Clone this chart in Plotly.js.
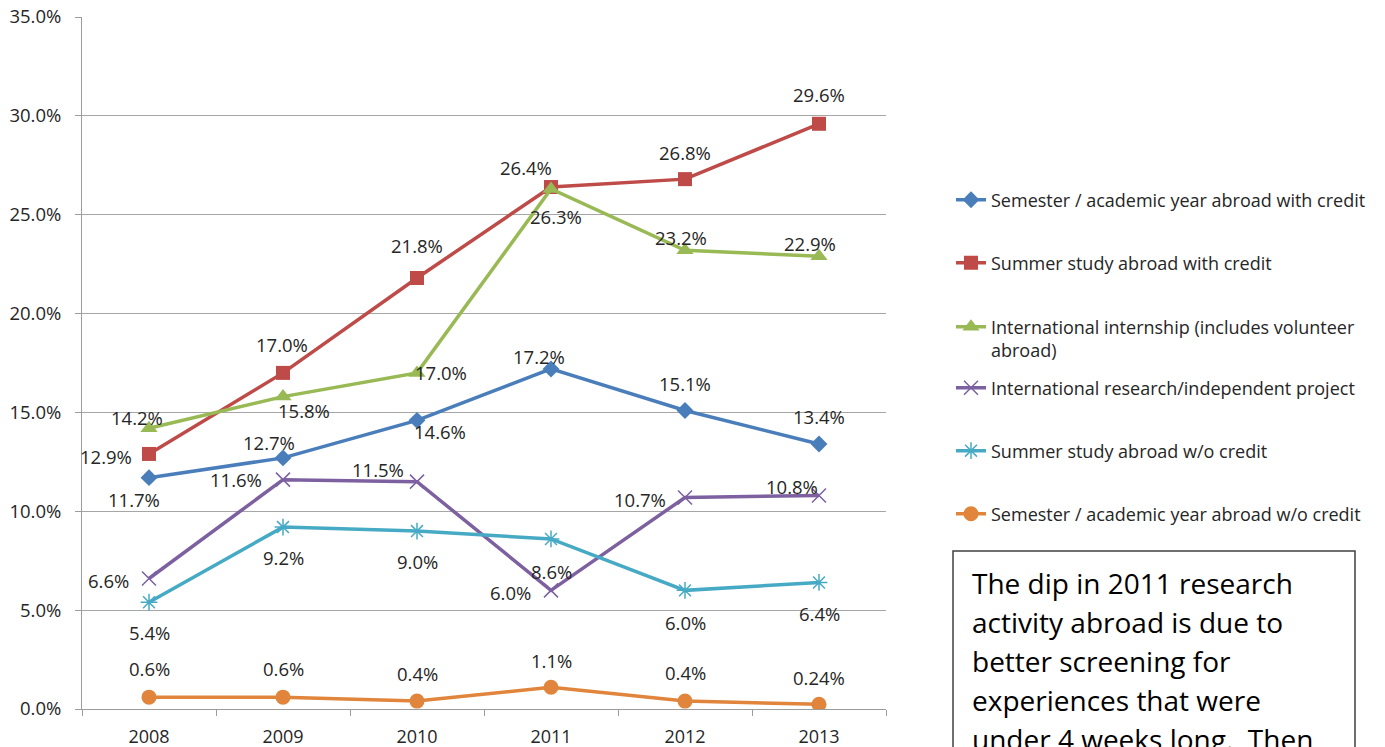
<!DOCTYPE html>
<html>
<head>
<meta charset="utf-8">
<script src="https://cdn.plot.ly/plotly-3.0.1.min.js"></script>
<style>html,body{margin:0;padding:0;background:#fff;}#chart{width:1385px;height:747px;}</style>
</head>
<body>
<div id="chart"></div>
<script>
// ---- data ----
const years = ['2008', '2009', '2010', '2011', '2012', '2013'];
const semWithCredit = [11.7, 12.7, 14.6, 17.2, 15.1, 13.4];
const summerWithCredit = [12.9, 17.0, 21.8, 26.4, 26.8, 29.6];
const internship = [14.2, 15.8, 17.0, 26.3, 23.2, 22.9];
const research = [6.6, 11.6, 11.5, 6.0, 10.7, 10.8];
const summerNoCredit = [5.4, 9.2, 9.0, 8.6, 6.0, 6.4];
const semNoCredit = [0.6, 0.6, 0.4, 1.1, 0.4, 0.24];
const seriesNames = [
  'Semester / academic year abroad with credit',
  'Summer study abroad with credit',
  'International internship (includes volunteer<br>abroad)',
  'International research/independent project',
  'Summer study abroad w/o credit',
  'Semester / academic year abroad w/o credit'
];
const noteLines = [
  'The dip in 2011 research',
  'activity abroad is due to',
  'better screening for',
  'experiences that were',
  'under 4 weeks long.\u00A0 Then'
];

// ---- styling / placement (not data) ----
const seriesValues = [semWithCredit, summerWithCredit, internship, research, summerNoCredit, semNoCredit];
const colors = ['#4A7EBB', '#BE4B48', '#98B954', '#7D60A0', '#46AAC5', '#E0853B'];
const symbols = ['diamond', 'square', 'triangle-up', 'x-thin-open', 'asterisk-open', 'circle'];
const msizes = [13, 14, 15, 14, 14, 15];
// label offsets in pixels [dx, dy(down)] per point
const labelOffsets = [
  [[-15, 22], [-14, -15], [23, 11], [-12, -12], [0, -27], [0, -28]],
  [[-43, 3], [-1, -28], [0, -32], [-25, -20], [0, -27], [0, -29]],
  [[-12, -11], [21, 14], [24, 0], [5, 27], [-4, -13], [-9, -13]],
  [[-41, 2], [-47, 0], [-39, -12], [-41, 2], [-45, 2], [-27, -9]],
  [[0, 30], [0, 30], [0, 30], [0, 33], [0, 32], [0, 31]],
  [[0, -29], [0, -29], [0, -28], [0, -27], [0, -29], [0, -27]]
];
const legendCentersPx = [200, 263, 338.5, 388, 451, 514];

const plotL = 82, plotR = 886, plotT = 17, plotB = 709;
const px2x = p => (p - plotL) / (plotR - plotL);
const px2y = p => (plotB - p) / (plotB - plotT);

function fmt(v) {
  const t = v * 10;
  if (Math.abs(t - Math.round(t)) < 1e-9) return v.toFixed(1) + '%';
  return String(v) + '%';
}

const FONT = 'Open Sans, Noto Sans, sans-serif';
const legendKeys = ['legend', 'legend2', 'legend3', 'legend4', 'legend5', 'legend6'];

const traces = seriesValues.map((vals, i) => ({
  type: 'scatter',
  mode: 'lines+markers',
  x: years,
  y: vals,
  name: seriesNames[i],
  legend: legendKeys[i],
  line: {color: colors[i], width: 3.5},
  marker: {
    symbol: symbols[i],
    size: msizes[i],
    color: colors[i],
    line: {color: colors[i], width: (symbols[i].indexOf('open') >= 0 ? 1.5 : 0)}
  },
  hoverinfo: 'x+y+name'
}));

const annotations = [];
seriesValues.forEach((vals, i) => {
  vals.forEach((v, j) => {
    annotations.push({
      x: j, y: v, xref: 'x', yref: 'y',
      text: fmt(v), showarrow: false,
      xanchor: 'center', yanchor: 'middle',
      xshift: labelOffsets[i][j][0], yshift: -labelOffsets[i][j][1],
      font: {family: FONT, size: 18.5, color: '#262626'}
    });
  });
});

const noteTops = [583, 622, 661, 700, 739];
noteLines.forEach((t, k) => {
  annotations.push({
    x: px2x(970), y: px2y(noteTops[k]), xref: 'paper', yref: 'paper',
    text: t, showarrow: false, xanchor: 'left', yanchor: 'middle',
    font: {family: FONT, size: 28, color: '#000000'}
  });
});

const layout = {
  width: 1385, height: 747,
  margin: {l: plotL, r: 1385 - plotR, t: plotT, b: 747 - plotB, pad: 0},
  paper_bgcolor: '#ffffff', plot_bgcolor: '#ffffff',
  font: {family: FONT, size: 18, color: '#262626'},
  showlegend: true,
  xaxis: {
    type: 'category', range: [-0.5, 5.5], fixedrange: true,
    showline: true, linecolor: '#9C9C9C', linewidth: 1,
    ticks: 'outside', tickson: 'boundaries', ticklen: 6, tickcolor: '#9C9C9C',
    showgrid: false, zeroline: false, ticklabelstandoff: 11,
    tickfont: {family: FONT, size: 18, color: '#262626'}
  },
  yaxis: {
    range: [0, 35], dtick: 5, tickformat: '.1f', ticksuffix: '%', fixedrange: true,
    showline: true, linecolor: '#9C9C9C', linewidth: 1,
    ticks: 'outside', ticklen: 6, tickcolor: '#9C9C9C',
    showgrid: true, gridcolor: '#A6A6A6', gridwidth: 1, zeroline: false,
    ticklabelstandoff: 10,
    tickfont: {family: FONT, size: 18.5, color: '#262626'}
  },
  annotations: annotations,
  shapes: [{
    type: 'rect', xref: 'paper', yref: 'paper',
    x0: px2x(953), x1: px2x(1355), y0: px2y(551), y1: px2y(800),
    line: {color: '#404040', width: 1.5}, fillcolor: 'rgba(0,0,0,0)'
  }]
};

legendKeys.forEach((k, i) => {
  layout[k] = {
    x: px2x(951), xanchor: 'left',
    y: px2y(legendCentersPx[i]), yanchor: 'middle',
    bgcolor: 'rgba(0,0,0,0)', borderwidth: 0,
    font: {family: FONT, size: 18, color: '#262626'},
    valign: 'top', itemsizing: 'trace'
  };
});

Plotly.newPlot('chart', traces, layout, {displayModeBar: false, staticPlot: true});
</script>
</body>
</html>
